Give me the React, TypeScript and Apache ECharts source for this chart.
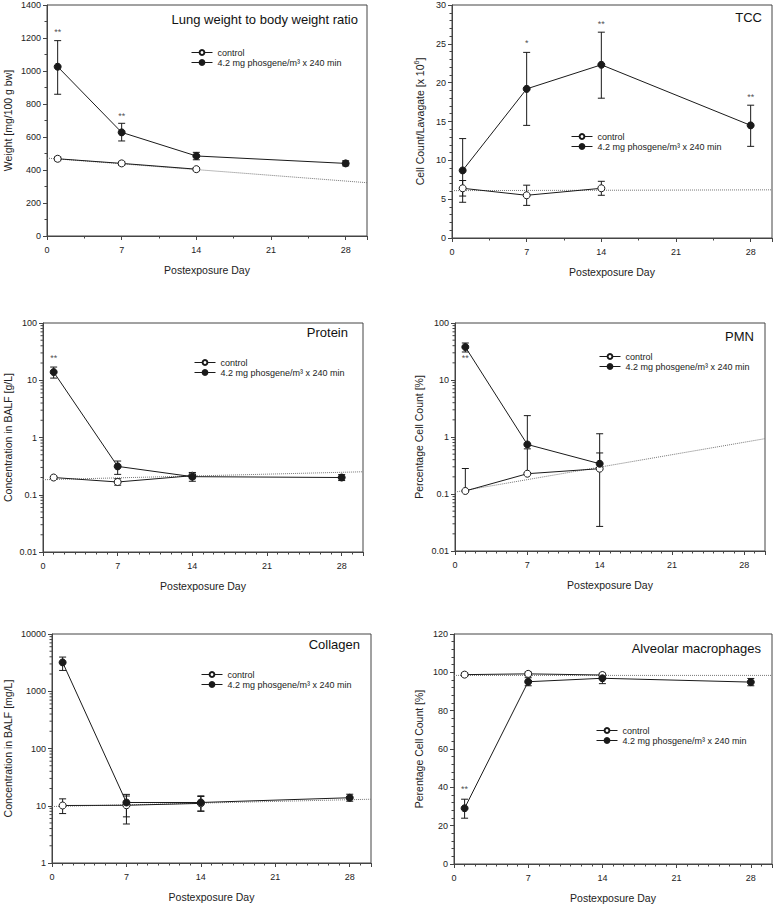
import React, { useEffect, useRef } from 'react';
import * as echarts from 'echarts';

const FONT = '"Liberation Sans", Arial, Helvetica, sans-serif';
const CONTROL = 'control';
const EXPOSED = '4.2 mg phosgene/m³ x 240 min';
const X_NAME = 'Postexposure Day';

const exposedDays = [1, 7, 14, 28];
const controlDays = [1, 7, 14];
const fitDays = [0, 30];
const xTicks = [0, 7, 14, 21, 28];

// Lung weight to body weight ratio
const lungCtrlMean = [468, 440, 405];
const lungCtrlLow = [456, 428, 395];
const lungCtrlHigh = [480, 452, 415];
const lungExpMean = [1026, 628, 485, 440];
const lungExpLow = [859, 576, 462, 425];
const lungExpHigh = [1184, 683, 507, 456];
const lungFit = [472, 323];
const lungStarDays = [1, 7];
const lungStarY = [1235, 728];
const lungStarText = ['**', '**'];

// TCC
const tccCtrlMean = [6.4, 5.5, 6.4];
const tccCtrlLow = [5.4, 4.2, 5.5];
const tccCtrlHigh = [7.4, 6.8, 7.3];
const tccExpMean = [8.7, 19.2, 22.3, 14.5];
const tccExpLow = [4.6, 14.5, 18.0, 11.8];
const tccExpHigh = [12.8, 23.9, 26.5, 17.1];
const tccFit = [6.1, 6.2];
const tccStarDays = [7, 14, 28];
const tccStarY = [25.1, 27.6, 18.2];
const tccStarText = ['*', '**', '**'];

// Protein
const protCtrlMean = [0.2, 0.167, 0.215];
const protCtrlLow = [0.19, 0.147, 0.19];
const protCtrlHigh = [0.21, 0.19, 0.24];
const protExpMean = [13.9, 0.313, 0.207, 0.2];
const protExpLow = [10.9, 0.227, 0.172, 0.177];
const protExpHigh = [17, 0.388, 0.245, 0.225];
const protFit = [0.183, 0.252];
const protStarDays = [1];
const protStarY = [24];
const protStarText = ['**'];

// PMN (lower bars equal to the mean are not drawn)
const pmnCtrlMean = [0.113, 0.227, 0.278];
const pmnCtrlLow = [0.113, 0.227, 0.027];
const pmnCtrlHigh = [0.28, 0.62, 0.525];
const pmnExpMean = [37.9, 0.74, 0.34];
const pmnExpLow = [31, 0.74, 0.34];
const pmnExpHigh = [44.6, 2.37, 1.14];
const pmnExpDays = [1, 7, 14];
const pmnFit = [0.108, 0.935];
const pmnStarDays = [1];
const pmnStarY = [24];
const pmnStarText = ['**'];

// Collagen
const colCtrlMean = [10.1, 10.2, 11.0];
const colCtrlLow = [7.3, 4.8, 8.0];
const colCtrlHigh = [13.2, 15.8, 14.5];
const colExpMean = [3190, 11.4, 11.4, 13.8];
const colExpLow = [2310, 6.4, 8.1, 12.0];
const colExpHigh = [3955, 14.8, 14.9, 15.9];
const colFit = [9.7, 13.0];

// Alveolar macrophages
const amCtrlMean = [98.8, 99.2, 98.6];
const amCtrlLow = [97.8, 98.2, 97.6];
const amCtrlHigh = [99.8, 100.2, 99.6];
const amExpMean = [29.1, 95.1, 96.9, 94.9];
const amExpLow = [23.9, 93.0, 94.1, 93.0];
const amExpHigh = [33.8, 97.2, 99.3, 96.8];
const amFit = [98.4, 98.4];
const amStarDays = [1];
const amStarY = [39];
const amStarText = ['**'];

type PanelData = {
  ctrlMean: number[]; ctrlLow: number[]; ctrlHigh: number[];
  expDays: number[]; expMean: number[]; expLow: number[]; expHigh: number[];
  fit: number[]; starDays: number[]; starY: number[]; starText: string[];
};

type Panel = PanelData & {
  left: number; top: number; width: number; height: number;
  yType: 'value' | 'log'; yMin: number; yMax: number; yInterval?: number; yMinor?: number;
  xMinor: number; yName: string; yNameGap: number;
  title: string; titleX: number; titleY: number;
  legendLeft: number; legendTop: number;
};

const panels: Panel[] = [
  {
    left: 47, top: 5, width: 320, height: 231,
    yType: 'value', yMin: 0, yMax: 1400, yInterval: 200, yMinor: 2, xMinor: 2,
    yName: 'Weight [mg/100 g bw]', yNameGap: 34,
    title: 'Lung weight to body weight ratio', titleX: 358, titleY: 19,
    legendLeft: 191, legendTop: 48,
    ctrlMean: lungCtrlMean, ctrlLow: lungCtrlLow, ctrlHigh: lungCtrlHigh,
    expDays: exposedDays, expMean: lungExpMean, expLow: lungExpLow, expHigh: lungExpHigh,
    fit: lungFit, starDays: lungStarDays, starY: lungStarY, starText: lungStarText,
  },
  {
    left: 452, top: 5, width: 322, height: 233,
    yType: 'value', yMin: 0, yMax: 30, yInterval: 5, yMinor: 5, xMinor: 2,
    yName: '{a|Cell Count/Lavagate [x 10}{s|6}{a|]}', yNameGap: 26,
    title: 'TCC', titleX: 762, titleY: 17,
    legendLeft: 571, legendTop: 132,
    ctrlMean: tccCtrlMean, ctrlLow: tccCtrlLow, ctrlHigh: tccCtrlHigh,
    expDays: exposedDays, expMean: tccExpMean, expLow: tccExpLow, expHigh: tccExpHigh,
    fit: tccFit, starDays: tccStarDays, starY: tccStarY, starText: tccStarText,
  },
  {
    left: 43, top: 323, width: 320, height: 229,
    yType: 'log', yMin: 0.01, yMax: 100, xMinor: 7,
    yName: 'Concentration in BALF [g/L]', yNameGap: 30,
    title: 'Protein', titleX: 348, titleY: 332,
    legendLeft: 194, legendTop: 358,
    ctrlMean: protCtrlMean, ctrlLow: protCtrlLow, ctrlHigh: protCtrlHigh,
    expDays: exposedDays, expMean: protExpMean, expLow: protExpLow, expHigh: protExpHigh,
    fit: protFit, starDays: protStarDays, starY: protStarY, starText: protStarText,
  },
  {
    left: 455, top: 323, width: 310, height: 228,
    yType: 'log', yMin: 0.01, yMax: 100, xMinor: 7,
    yName: 'Percentage Cell Count [%]', yNameGap: 31,
    title: 'PMN', titleX: 754, titleY: 336,
    legendLeft: 599, legendTop: 352,
    ctrlMean: pmnCtrlMean, ctrlLow: pmnCtrlLow, ctrlHigh: pmnCtrlHigh,
    expDays: pmnExpDays, expMean: pmnExpMean, expLow: pmnExpLow, expHigh: pmnExpHigh,
    fit: pmnFit, starDays: pmnStarDays, starY: pmnStarY, starText: pmnStarText,
  },
  {
    left: 52, top: 634, width: 319, height: 229,
    yType: 'log', yMin: 1, yMax: 10000, xMinor: 7,
    yName: 'Concentration in BALF [mg/L]', yNameGap: 39,
    title: 'Collagen', titleX: 360, titleY: 644,
    legendLeft: 201, legendTop: 670,
    ctrlMean: colCtrlMean, ctrlLow: colCtrlLow, ctrlHigh: colCtrlHigh,
    expDays: exposedDays, expMean: colExpMean, expLow: colExpLow, expHigh: colExpHigh,
    fit: colFit, starDays: [], starY: [], starText: [],
  },
  {
    left: 454, top: 634, width: 318, height: 230,
    yType: 'value', yMin: 0, yMax: 120, yInterval: 20, yMinor: 5, xMinor: 7,
    yName: 'Perentage Cell Count [%]', yNameGap: 30,
    title: 'Alveolar macrophages', titleX: 761, titleY: 648,
    legendLeft: 596, legendTop: 726,
    ctrlMean: amCtrlMean, ctrlLow: amCtrlLow, ctrlHigh: amCtrlHigh,
    expDays: exposedDays, expMean: amExpMean, expLow: amExpLow, expHigh: amExpHigh,
    fit: amFit, starDays: amStarDays, starY: amStarY, starText: amStarText,
  },
];

const AXIS_COLOR = '#444';
const LINE_COLOR = '#1a1a1a';

function logMinorValues(min: number, max: number): number[] {
  const out: number[] = [];
  for (let d = Math.round(Math.log10(min)); d < Math.round(Math.log10(max)); d++) {
    for (let k = 2; k <= 9; k++) out.push(parseFloat((k * Math.pow(10, d)).toPrecision(6)));
  }
  return out;
}

const renderErr = (_params: any, api: any) => {
  const x = api.value(0);
  const lo = api.value(1);
  const hi = api.value(2);
  const mean = api.value(3);
  const pH = api.coord([x, hi]);
  const pL = api.coord([x, lo]);
  const hw = 3.5;
  const st = { stroke: LINE_COLOR, lineWidth: 1 };
  const children: any[] = [
    { type: 'line', shape: { x1: pH[0], y1: pH[1], x2: pL[0], y2: pL[1] }, style: st },
    { type: 'line', shape: { x1: pH[0] - hw, y1: pH[1], x2: pH[0] + hw, y2: pH[1] }, style: st },
  ];
  if (lo < mean) {
    children.push({ type: 'line', shape: { x1: pL[0] - hw, y1: pL[1], x2: pL[0] + hw, y2: pL[1] }, style: st });
  }
  return { type: 'group', children };
};

const renderLogTick = (_params: any, api: any) => {
  const p = api.coord([0, api.value(1)]);
  return { type: 'line', shape: { x1: p[0] - 2.5, y1: p[1], x2: p[0], y2: p[1] }, style: { stroke: AXIS_COLOR, lineWidth: 1 } };
};

function buildOption() {
  const grid = panels.map((p) => ({
    left: p.left, top: p.top, width: p.width, height: p.height,
    show: true, borderColor: AXIS_COLOR, borderWidth: 1, backgroundColor: 'transparent',
  }));
  const xAxis = panels.map((p, i) => ({
    type: 'value', gridIndex: i, min: 0, max: 30, interval: 7,
    name: X_NAME, nameLocation: 'middle', nameGap: 28,
    nameTextStyle: { fontFamily: FONT, fontSize: 10.5, color: '#222' },
    axisLine: { show: true, onZero: false, lineStyle: { color: AXIS_COLOR, width: 1 } },
    axisTick: { show: true, length: 4, lineStyle: { color: AXIS_COLOR } },
    minorTick: { show: true, splitNumber: p.xMinor, length: 2.5, lineStyle: { color: AXIS_COLOR } },
    axisLabel: {
      fontFamily: FONT, fontSize: 9, color: '#222', margin: 9,
      formatter: (v: number) => (xTicks.indexOf(v) >= 0 ? String(v) : ''),
    },
    splitLine: { show: false },
    minorSplitLine: { show: false },
  }));
  const yAxis = panels.map((p, i) => {
    const base: any = {
      type: p.yType, gridIndex: i, min: p.yMin, max: p.yMax,
      name: p.yName, nameLocation: 'middle', nameGap: p.yNameGap, nameRotate: 90,
      nameTextStyle: {
        fontFamily: FONT, fontSize: 10.5, color: '#222',
        rich: {
          a: { fontFamily: FONT, fontSize: 10.5, color: '#222' },
          s: { fontFamily: FONT, fontSize: 7, color: '#222', padding: [0, 0, 6, 0] },
        },
      },
      axisLine: { show: true, onZero: false, lineStyle: { color: AXIS_COLOR, width: 1 } },
      axisTick: { show: true, length: 4, lineStyle: { color: AXIS_COLOR } },
      axisLabel: {
        fontFamily: FONT, fontSize: 9, color: '#222', margin: 6,
        formatter: (v: number) => String(parseFloat(Number(v).toPrecision(6))),
      },
      splitLine: { show: false },
      minorSplitLine: { show: false },
    };
    if (p.yType === 'value') {
      base.interval = p.yInterval;
      base.minorTick = { show: true, splitNumber: p.yMinor, length: 2.5, lineStyle: { color: AXIS_COLOR } };
    } else {
      base.logBase = 10;
      base.minorTick = { show: false };
    }
    return base;
  });

  const series: any[] = [];
  panels.forEach((p, i) => {
    const ax = { xAxisIndex: i, yAxisIndex: i };
    series.push({
      type: 'line', ...ax, silent: true, z: 1,
      data: fitDays.map((d, k) => [d, p.fit[k]]),
      symbol: 'none', lineStyle: { type: 'dotted', color: '#777', width: 1 },
    });
    const errData: number[][] = [];
    controlDays.forEach((d, k) => errData.push([d, p.ctrlLow[k], p.ctrlHigh[k], p.ctrlMean[k]]));
    p.expDays.forEach((d, k) => errData.push([d, p.expLow[k], p.expHigh[k], p.expMean[k]]));
    series.push({
      type: 'custom', ...ax, silent: true, z: 2,
      renderItem: renderErr, data: errData, encode: { x: 0, y: [1, 2] },
    });
    series.push({
      type: 'line', name: CONTROL, ...ax, z: 3,
      data: controlDays.map((d, k) => [d, p.ctrlMean[k]]),
      symbol: 'circle', symbolSize: 7,
      itemStyle: { color: '#fff', borderColor: LINE_COLOR, borderWidth: 1 },
      lineStyle: { color: LINE_COLOR, width: 1 },
    });
    series.push({
      type: 'line', name: EXPOSED, ...ax, z: 4,
      data: p.expDays.map((d, k) => [d, p.expMean[k]]),
      symbol: 'circle', symbolSize: 7,
      itemStyle: { color: LINE_COLOR, borderColor: LINE_COLOR, borderWidth: 1 },
      lineStyle: { color: LINE_COLOR, width: 1 },
    });
    if (p.starDays.length) {
      series.push({
        type: 'scatter', ...ax, silent: true, z: 5,
        symbolSize: 1, itemStyle: { color: 'transparent' },
        data: p.starDays.map((d, k) => ({ value: [d, p.starY[k]], label: { formatter: p.starText[k] } })),
        label: { show: true, position: 'inside', fontFamily: FONT, fontSize: 9, color: '#222' },
      });
    }
    if (p.yType === 'log') {
      series.push({
        type: 'custom', ...ax, silent: true, z: 5,
        renderItem: renderLogTick,
        data: logMinorValues(p.yMin, p.yMax).map((v) => [0, v]),
        encode: { x: 0, y: 1 },
      });
    }
  });

  const legend = panels.map((p) => ({
    orient: 'vertical', left: p.legendLeft, top: p.legendTop,
    itemWidth: 21, itemHeight: 6, itemGap: 1, padding: 0, selectedMode: false,
    data: [CONTROL, EXPOSED],
    lineStyle: { width: 1, color: LINE_COLOR },
    textStyle: { fontFamily: FONT, fontSize: 9, color: '#222' },
  }));

  const graphic = panels.map((p) => ({
    type: 'text', x: p.titleX, y: p.titleY, silent: true,
    style: {
      text: p.title, fontFamily: FONT, fontSize: 13, fill: '#111',
      align: 'right', verticalAlign: 'middle', textAlign: 'right', textVerticalAlign: 'middle',
    },
  }));

  return {
    animation: false,
    backgroundColor: '#fff',
    grid, xAxis, yAxis, series, legend, graphic,
  };
}

export default function App() {
  const ref = useRef<HTMLDivElement>(null);
  useEffect(() => {
    if (!ref.current) return;
    const chart = echarts.init(ref.current, undefined, { renderer: 'svg' });
    chart.setOption(buildOption() as any);
    return () => chart.dispose();
  }, []);
  return (
    <div
      ref={ref}
      style={{ position: 'absolute', left: 0, top: 0, width: 775, height: 904, background: '#fff' }}
    />
  );
}
